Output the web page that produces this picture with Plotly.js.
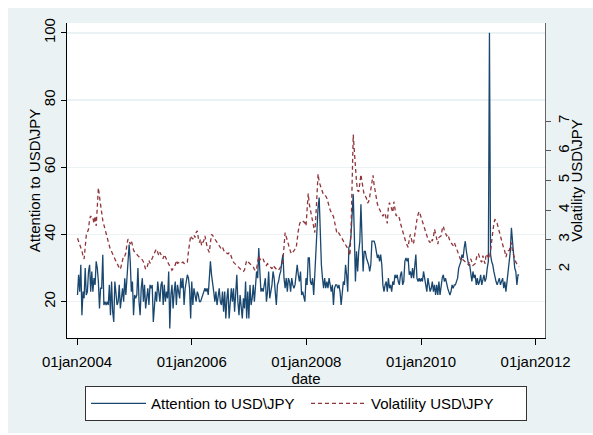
<!DOCTYPE html>
<html><head><meta charset="utf-8">
<script src="https://cdn.plot.ly/plotly-3.0.1.min.js"></script>
<style>html,body{margin:0;padding:0;background:#fff;}#chart{position:absolute;left:8px;top:8px;width:585px;height:425px;}</style>
</head><body><div id="chart"></div>
<script>
const startDate = [2004, 0, 4];  // first weekly observation (04jan2004)
const attention = [
22,28,23,31,16,23,21,30,22,23,29,31,23,29,23,27,25,32,30,26,18,24,24,34,19,20,19,20,19,25,16,26,17,14,26,21,19,20,25,18,21,24,20,27,22,28,30,37,32,23,26,16,22,21,22,30,20,16,24,27,20,25,18,22,24,19,
25,24,25,14,20,23,20,26,23,20,25,26,19,25,20,23,21,29,12,22,25,18,23,26,19,25,23,21,27,24,27,19,24,27,28,27,24,15,26,19,24,22,20,23,22,20,20,21,22,23,24,23,24,22,26,32,28,26,23,20,23,19,21,24,20,19,23,17,23,15,21,24,15,
19,24,20,24,17,24,28,20,16,22,18,15,21,18,26,15,23,15,25,19,21,25,20,26,29,27,36,29,23,24,23,25,27,20,23,29,21,23,25,29,27,23,19,25,26,28,29,32,34,27,24,27,23,27,26,23,27,25,24,25,28,31,28,26,29,22,23,21,20,27,25,33,
33,26,25,27,22,28,35,38,48,51,40,31,27,24,27,24,26,24,27,24,23,25,19,24,25,25,24,25,23,19,23,26,25,31,28,23,36,37,40,45,52,40,26,35,29,35,38,49,37,29,35,35,33,32,31,29,31,38,38,38,37,35,33,34,32,34,31,25,23,25,26,23,27,
24,25,23,26,25,28,27,28,26,25,28,29,25,26,32,33,32,33,28,29,27,30,27,32,34,27,26,27,26,27,26,29,26,25,23,27,25,23,24,26,23,25,22,25,22,26,22,25,27,28,26,27,25,24,23,22,23,25,24,25,25,26,27,30,31,32,34,33,36,38,35,33,31,
31,28,26,29,27,28,25,27,25,26,28,25,27,28,26,27,30,32,100,34,32,31,29,27,26,25,26,27,25,26,27,24,26,23,26,27,30,35,42,39,34,30,29,25,28,28
];
const volatility = [
3.05,2.95,2.82,2.7,2.62,2.45,2.35,2.75,3.15,3.25,3.35,3.7,3.8,3.72,3.74,3.55,3.8,3.46,4.0,4.75,4.45,4.15,3.9,3.65,3.5,3.35,3.2,3.05,2.9,2.75,2.65,2.6,2.5,2.42,2.35,2.27,2.2,2.1,2.05,2.0,2.15,2.35,2.46,2.45,2.55,2.85,3.02,2.95,2.85,2.97,2.75,2.65,2.58,2.53,2.5,2.46,2.42,2.38,2.35,2.32,2.25,2.1,2.0,2.02,2.2,2.3,
2.2,2.3,2.38,2.46,2.55,2.63,2.68,2.52,2.46,2.57,2.48,2.42,2.36,2.5,2.4,2.33,2.25,2.18,2.1,2.0,1.97,2.02,2.06,2.15,2.3,2.2,2.22,2.24,2.2,2.22,2.24,2.2,2.18,2.22,2.24,2.6,2.92,3.13,3.06,3.02,3.15,3.07,3.24,3.3,3.05,2.9,3.02,2.8,2.9,2.97,3.13,2.9,2.75,2.65,2.57,2.9,3.18,3.14,3.08,3.02,2.96,2.9,2.84,2.78,2.72,2.68,2.74,2.64,2.57,2.57,2.55,2.52,2.56,
2.55,2.42,2.3,2.24,2.2,2.16,2.12,2.08,2.05,2.02,1.98,1.95,1.93,1.97,2.15,2.3,2.26,2.22,2.19,2.15,2.11,2.08,2.0,1.95,2.02,2.3,2.46,2.35,2.3,2.3,2.35,2.25,2.19,2.13,2.19,2.14,2.08,2.04,2.02,2.13,2.08,2.02,1.97,1.96,1.97,2.02,2.08,2.15,2.3,3.0,3.24,3.1,2.95,2.8,2.65,2.58,2.52,2.57,2.65,2.68,2.7,3.05,3.3,3.5,3.62,3.62,3.63,3.6,3.57,3.46,4.2,4.56,
4.2,4.0,3.8,3.6,3.4,3.24,3.8,4.6,5.22,4.95,4.85,4.73,4.6,4.5,4.5,4.47,4.4,4.25,4.1,4.0,3.92,3.85,3.78,3.6,3.4,3.24,3.28,3.22,3.17,3.1,3.03,2.96,2.9,2.85,2.79,2.7,2.6,2.46,3.3,5.3,6.55,6.0,5.4,4.95,4.65,4.62,4.9,5.2,4.95,4.65,4.5,4.47,4.4,4.23,4.28,4.45,4.7,5.0,5.17,4.85,4.6,4.34,4.2,4.1,4.0,3.94,3.88,3.79,3.85,3.9,3.7,3.55,4.1,
4.25,4.15,4.05,3.92,4.28,4.0,3.8,3.84,3.78,3.73,3.55,3.4,3.25,3.1,2.96,2.9,2.82,2.74,3.02,3.18,3.02,2.85,2.9,3.2,3.45,3.68,3.85,3.95,3.85,3.73,3.6,3.45,3.35,3.25,3.15,3.02,2.95,2.9,3.02,2.95,3.1,3.35,3.2,3.0,2.85,3.07,3.1,3.13,3.35,3.46,3.3,3.2,3.13,3.18,3.05,2.96,2.9,2.85,2.8,2.9,2.8,2.74,2.66,2.55,2.42,2.3,2.35,2.32,2.3,2.26,2.22,2.19,2.15,
2.3,2.35,2.25,2.13,2.16,2.19,2.35,2.5,2.52,2.35,2.28,2.24,2.46,2.3,2.19,2.52,2.45,2.41,2.35,2.63,3.0,3.35,3.55,3.68,3.65,3.55,3.4,3.22,3.05,2.95,2.8,2.7,2.6,2.41,2.55,2.63,2.63,2.75,2.9,2.6,2.45,2.3,2.24,2.18,2.13,2.08
];
const xTickVals = ['2004-01-01','2006-01-01','2008-01-01','2010-01-01','2012-01-01'];
const xTickText = ['01jan2004','01jan2006','01jan2008','01jan2010','01jan2012'];
const leftTicks = [20,40,60,80,100];
const rightTicks = [2,3,4,5,6,7];

function weeklyDates(n){
  const out = [];
  for (let i = 0; i < n; i++) {
    out.push(new Date(Date.UTC(startDate[0], startDate[1], startDate[2] + 7*i)).toISOString().slice(0,10));
  }
  return out;
}
const dates = weeklyDates(attention.length);

const font = 'Liberation Sans, Arial, sans-serif';
const traces = [
  {x: dates, y: attention, type:'scatter', mode:'lines', name:'Attention to USD\\JPY',
   line:{color:'#1A476F', width:1.3}, yaxis:'y'},
  {x: dates, y: volatility, type:'scatter', mode:'lines', name:'Volatility USD\\JPY',
   line:{color:'#90353B', width:1.3, dash:'4px,3px'}, yaxis:'y2'}
];
const layout = {
  width:585, height:425,
  paper_bgcolor:'#EAF2F3', plot_bgcolor:'#ffffff',
  margin:{l:59, r:48, t:15, b:89},
  font:{family:font, size:15, color:'#000'},
  showlegend:true,
  legend:{orientation:'h', x:0.5, xanchor:'center', y:-0.153, yanchor:'top',
    bgcolor:'#fff', bordercolor:'#333', borderwidth:1, font:{size:15}, itemwidth:55,
    entrywidth:150, traceorder:'normal'},
  xaxis:{type:'date', range:['2003-10-29','2012-03-01'], tickvals:xTickVals, ticktext:xTickText,
    ticks:'outside', ticklen:6, tickcolor:'#000', showline:true, linecolor:'#000', linewidth:1,
    showgrid:false, zeroline:false, tickfont:{size:15}, ticklabelstandoff:4,
    title:{text:'date', font:{size:15}, standoff:2}},
  yaxis:{range:[9.2,102.92], tickvals:leftTicks, ticks:'outside', ticklen:5, tickcolor:'#000',
    tickangle:-90, showline:true, linecolor:'#000', linewidth:1, showgrid:true,
    gridcolor:'#EAF2F3', gridwidth:1.5, zeroline:false, tickfont:{size:15},
    title:{text:'Attention to USD\\JPY', font:{size:15}, standoff:0}},
  yaxis2:{overlaying:'y', side:'right', range:[-0.318,10.31], tickvals:rightTicks, ticks:'outside',
    ticklen:5, tickcolor:'#555', tickangle:-90, showline:true, linecolor:'#666', linewidth:1,
    showgrid:false, zeroline:false, tickfont:{size:15},
    title:{text:'Volatility USD\\JPY', font:{size:15}, standoff:0}},
  hovermode:false
};
function nudge(el, dx){
  if (!el) return;
  const t = el.getAttribute('transform') || '';
  el.setAttribute('transform', ('translate(' + dx + ',0) ' + t).trim());
}
Plotly.newPlot('chart', traces, layout, {displayModeBar:false, staticPlot:true}).then(function(gd){
  nudge(gd.querySelector('.g-ytitle'), 4);
  nudge(gd.querySelector('.g-y2title'), -4);
});
</script></body></html>
